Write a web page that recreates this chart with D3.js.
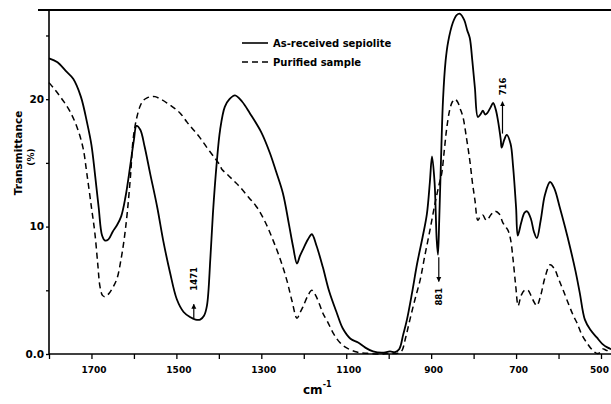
<!DOCTYPE html>
<html>
<head>
<meta charset="utf-8">
<script src="https://cdn.jsdelivr.net/npm/d3@7"></script>
<style>
  body { margin: 0; background: #fff; }
  svg { display: block; }
  text { font-family: "DejaVu Sans", "Liberation Sans", Arial, sans-serif; font-weight: bold; fill: #000; }
</style>
</head>
<body>
<svg id="chart" width="611" height="404"></svg>
<script>
const width = 611, height = 404;

// as-received sepiolite (wavenumber, transmittance)
const rawWn = [1800,1780,1760,1743,1725,1710,1700,1692,1683,1675,1668,1660,1650,1640,1630,1620,1609,1600,1594,1585,1575,1562,1545,1531,1515,1499,1483,1468,1455,1444,1435,1428,1420,1414,1405,1397,1386,1375,1362,1345,1327,1300,1280,1265,1249,1235,1225,1216,1209,1202,1190,1181,1170,1155,1140,1122,1108,1090,1072,1055,1037,1015,997,985,975,966,957,945,933,920,910,903,898,892,887,884,881,877,872,866,860,849,840,832,822,815,809,803,797,790,784,778,773,768,761,754,748,743,736,734,728,722,713,707,700,696,688,680,674,665,658,651,642,632,620,610,597,585,573,560,550,538,525,510,497,484,470];
const rawT = [23.2,22.9,22.2,21.6,20.2,18.1,16.4,14.2,11.5,9.3,8.9,9.0,9.6,10.1,10.8,12.3,14.7,16.8,17.9,17.6,16.3,14.2,11.5,8.9,6.4,4.3,3.3,2.9,2.7,2.7,3.0,3.8,7.5,11.0,15.0,17.6,19.4,20.0,20.3,19.8,18.9,17.4,15.8,14.3,12.6,10.2,8.4,7.1,7.7,8.2,9.0,9.4,8.5,6.8,4.9,3.2,2.0,1.2,0.9,0.5,0.2,0.1,0.2,0.15,0.4,1.5,2.7,4.8,7.1,9.2,11.0,13.5,15.5,13.5,9.0,7.8,10.5,15.0,20.0,23.0,24.5,26.0,26.6,26.7,26.2,25.4,24.8,23.0,20.9,18.6,18.8,19.1,18.8,18.9,19.3,19.7,19.2,18.4,16.8,16.2,16.8,17.2,16.5,14.7,11.5,9.3,10.3,11.1,11.2,10.6,9.6,9.1,10.5,12.5,13.5,13.0,11.5,10.0,8.4,6.5,4.8,2.7,1.9,1.3,0.8,0.5,0.3];

// purified sample
const purWn = [1800,1785,1767,1750,1734,1720,1711,1700,1692,1685,1680,1674,1668,1660,1650,1640,1630,1623,1616,1608,1602,1595,1586,1578,1569,1560,1550,1537,1522,1505,1491,1475,1460,1445,1428,1410,1397,1393,1380,1365,1350,1330,1310,1290,1272,1255,1240,1228,1216,1208,1202,1190,1181,1172,1163,1155,1145,1130,1115,1100,1075,1050,1020,1000,980,970,960,950,938,926,915,903,891,882,875,869,863,856,850,844,838,831,825,817,809,803,797,790,784,778,773,768,760,750,740,731,725,719,713,707,701,695,688,680,672,665,658,651,642,632,620,610,600,589,575,565,556,545,533,520,510,502,495,488,475];
const purT = [21.3,20.7,19.9,19.0,17.8,16.2,14.2,11.5,9.5,7.0,5.3,4.6,4.5,4.7,5.2,5.9,7.5,9.0,11.0,14.0,16.8,18.3,19.4,19.9,20.1,20.2,20.2,20.0,19.7,19.3,18.9,18.2,17.6,17.0,16.2,15.4,14.8,14.5,14.1,13.6,13.1,12.3,11.5,10.3,8.9,7.4,5.8,4.2,2.8,3.3,3.7,4.6,5.0,4.6,3.9,3.2,2.6,1.6,0.9,0.5,0.15,0.05,0.0,0.05,0.05,0.2,1.3,2.7,4.3,5.8,7.7,9.7,11.8,13.2,14.2,16.0,17.8,19.2,19.8,20.0,19.8,19.2,18.6,17.0,15.2,13.5,12.1,10.5,10.8,10.9,10.6,10.5,10.9,11.2,11.0,10.3,10.0,9.7,9.0,7.4,5.4,3.8,4.6,5.0,5.0,4.6,4.1,3.8,4.6,6.0,7.0,6.7,5.9,5.0,3.8,3.0,2.4,1.5,0.86,0.3,0.05,0.1,0.4,0.3,0.2];

const xTicks = [1800,1700,1600,1500,1400,1300,1200,1100,1000,900,800,700,600,500];
const xLabels = [1700,1500,1300,1100,900,700,500];
const yTicks = [0,5,10,15,20,25];
const seriesNames = ["As-received sepiolite","Purified sample"];
const peaks = [
  { label: "1471", wn: 1459, t0: 2.8, t1: 3.9, tText: 5.9 },
  { label: "881", wn: 882, t0: 7.6, t1: 5.7, tText: 4.5 },
  { label: "716", wn: 732, t0: 17.3, t1: 19.8, tText: 21.0 }
];

const x = d3.scaleLinear().domain([1800, 500]).range([49, 601]);
const y = d3.scaleLinear().domain([0, 27]).range([354, 10]);

const svg = d3.select("#chart");

svg.append("defs").append("marker")
  .attr("id", "arr")
  .attr("viewBox", "0 0 10 10")
  .attr("refX", 9).attr("refY", 5)
  .attr("markerWidth", 5).attr("markerHeight", 6)
  .attr("markerUnits", "userSpaceOnUse")
  .attr("orient", "auto")
  .append("path").attr("d", "M0,0 L10,5 L0,10 z").attr("fill", "#000");

// top frame line
svg.append("line").attr("x1", 38).attr("x2", width).attr("y1", 10).attr("y2", 10)
  .attr("stroke", "#000").attr("stroke-width", 2);

const xAxis = d3.axisBottom(x).tickValues(xTicks).tickSize(5)
  .tickFormat(d => xLabels.includes(d) ? d : "");
svg.append("g").attr("transform", "translate(0,354)").call(xAxis)
  .call(g => g.select(".domain").attr("d", "M49,0H" + width).attr("stroke-width", 1.6))
  .call(g => g.selectAll(".tick line").attr("stroke-width", 1.3))
  .call(g => g.selectAll(".tick text").attr("font-size", 9).attr("dy", "1.25em")
    .attr("font-family", null).attr("dx", d => d === 500 ? -2 : 2));

const yAxis = d3.axisLeft(y).tickValues(yTicks).tickSize(3)
  .tickFormat(d => d === 0 ? "0.0" : (d % 10 === 0 ? String(d) : ""));
svg.append("g").attr("transform", "translate(49,0)").call(yAxis)
  .call(g => g.select(".domain").attr("d", "M0,10V354").attr("stroke-width", 1.6))
  .call(g => g.selectAll(".tick line").attr("stroke-width", 1.3))
  .call(g => g.selectAll(".tick text").attr("font-size", 10.5).attr("font-family", null).attr("x", -5));

// axis titles
svg.append("text")
  .attr("transform", "translate(22,153) rotate(-90)")
  .attr("text-anchor", "middle").attr("font-size", 10.5)
  .text("Transmittance");
svg.append("text")
  .attr("transform", "translate(34,157) rotate(-90)")
  .attr("text-anchor", "middle").attr("font-size", 9)
  .text("(%)");
const xt = svg.append("text").attr("x", 303).attr("y", 394).attr("font-size", 12);
xt.append("tspan").text("cm");
xt.append("tspan").attr("dy", -7).attr("font-size", 8).text("-1");

// curves
const line = (wn, t) => d3.line()
  .x((d, i) => x(wn[i]))
  .y(d => y(d))
  .curve(d3.curveCatmullRom.alpha(0.5))(t);

svg.append("path").attr("d", line(rawWn, rawT))
  .attr("fill", "none").attr("stroke", "#000").attr("stroke-width", 1.8);
svg.append("path").attr("d", line(purWn, purT))
  .attr("fill", "none").attr("stroke", "#000").attr("stroke-width", 1.5)
  .attr("stroke-dasharray", "6,4");

// legend
const leg = svg.append("g");
seriesNames.forEach((name, i) => {
  const ly = 43 + i * 19;
  leg.append("line").attr("x1", 242).attr("x2", 268).attr("y1", ly).attr("y2", ly)
    .attr("stroke", "#000").attr("stroke-width", 1.6)
    .attr("stroke-dasharray", i === 1 ? "6,4" : null);
  leg.append("text").attr("x", 273).attr("y", ly + 3.5).attr("font-size", 10).text(name);
});

// peak annotations
peaks.forEach(p => {
  const px = x(p.wn);
  svg.append("line").attr("x1", px).attr("x2", px)
    .attr("y1", y(p.t0)).attr("y2", y(p.t1))
    .attr("stroke", "#000").attr("stroke-width", 1.2)
    .attr("marker-end", "url(#arr)");
  svg.append("text")
    .attr("transform", `translate(${px + 3.5},${y(p.tText)}) rotate(-90)`)
    .attr("text-anchor", "middle").attr("font-size", 8.5)
    .text(p.label);
});
</script>
</body>
</html>
